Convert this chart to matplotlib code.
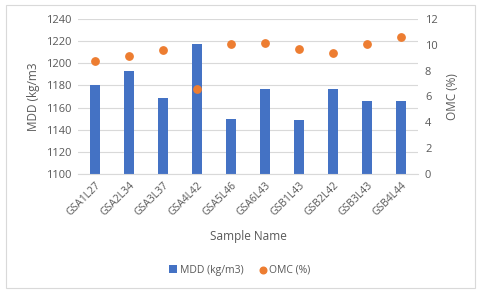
import matplotlib.pyplot as plt
import numpy as np

samples = ['GSA1L27', 'GSA2L34', 'GSA3L37', 'GSA4L42', 'GSA5L46',
           'GSA6L43', 'GSB1L43', 'GSB2L42', 'GSB3L43', 'GSB4L44']
mdd = [1180, 1193, 1169, 1217, 1150, 1177, 1149, 1177, 1166, 1166]
omc = [8.75, 9.13, 9.57, 6.58, 10.06, 10.16, 9.67, 9.36, 10.06, 10.63]

plt.rcParams['font.family'] = ['Open Sans', 'DejaVu Sans']
grey = '#595959'

fig = plt.figure(figsize=(4.8, 2.93), dpi=100)
ax = fig.add_axes([78 / 480, 1 - 174 / 293, 340 / 480, 155 / 293])
ax2 = ax.twinx()

x = np.arange(len(samples))
ax.bar(x, mdd, width=0.31, color='#4472C4', label='MDD (kg/m3)', zorder=2)
ax2.scatter(x, omc, s=28, color='#ED7D31', label='OMC (%)', zorder=3)

ax.set_xlim(-0.5, len(samples) - 0.5)
ax.set_ylim(1100, 1240)
ax.set_yticks(range(1100, 1241, 20))
ax2.set_ylim(0, 12)
ax2.set_yticks(range(0, 13, 2))

ax.yaxis.grid(True, color='#D9D9D9', linewidth=0.8, zorder=0)
ax.set_axisbelow(True)
for a in (ax, ax2):
    for s in a.spines.values():
        s.set_visible(False)
    a.tick_params(length=0, labelsize=8, labelcolor=grey, pad=5)
ax.spines['bottom'].set_visible(True)
ax.spines['bottom'].set_color('#D9D9D9')

ax.set_xticks(x)
ax.set_xticklabels(samples, rotation=45, ha='right', rotation_mode='anchor')
ax.tick_params(axis='x', labelsize=7.5, pad=4)

ax.set_xlabel('Sample Name', fontsize=8.5, color=grey, labelpad=9)
ax.set_ylabel('MDD (kg/m3', fontsize=8.5, color=grey, labelpad=4)
ax2.set_ylabel('OMC (%)', fontsize=8.5, color=grey, labelpad=6)

h1, l1 = ax.get_legend_handles_labels()
h2, l2 = ax2.get_legend_handles_labels()
fig.legend(h1 + h2, l1 + l2, loc='center', bbox_to_anchor=(0.5, 1 - 270 / 293),
           ncol=2, frameon=False, fontsize=7.5, labelcolor=grey,
           handlelength=0.7, handletextpad=0.3, columnspacing=1.5, markerscale=0.9)

fig.patches.append(plt.Rectangle((6 / 480, 5 / 293), 469 / 480, 283 / 293,
                                 transform=fig.transFigure, fill=False,
                                 edgecolor='#D9D9D9', linewidth=0.8))

fig.savefig('out.png', dpi=100)
